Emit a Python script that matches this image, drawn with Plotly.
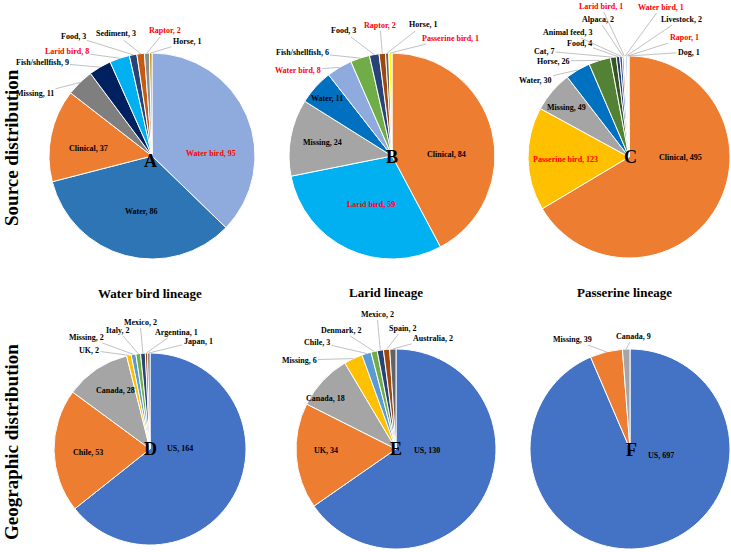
import math
import plotly.graph_objects as go

W, H = 731, 552

# ---------------- data ----------------
a_labels = ["Water bird", "Water", "Clinical", "Missing", "Fish/shellfish", "Larid bird",
            "Food", "Sediment", "Raptor", "Horse"]
a_values = [95, 86, 37, 11, 9, 8, 3, 3, 2, 1]

b_labels = ["Clinical", "Larid bird", "Missing", "Water", "Water bird", "Fish/shellfish",
            "Food", "Raptor", "Horse", "Passerine bird"]
b_values = [84, 59, 24, 11, 8, 6, 3, 2, 1, 1]

c_labels = ["Clinical", "Passerine bird", "Missing", "Water", "Horse", "Cat", "Food",
            "Animal feed", "Alpaca", "Larid bird", "Water bird", "Livestock", "Rapor", "Dog"]
c_values = [495, 123, 49, 30, 26, 7, 4, 3, 2, 1, 1, 2, 1, 1]

d_labels = ["US", "Chile", "Canada", "UK", "Missing", "Italy", "Mexico", "Argentina", "Japan"]
d_values = [164, 53, 28, 2, 2, 2, 2, 1, 1]

e_labels = ["US", "UK", "Canada", "Missing", "Chile", "Denmark", "Mexico", "Spain", "Australia"]
e_values = [130, 34, 18, 6, 3, 2, 2, 2, 2]

f_labels = ["US", "Missing", "Canada"]
f_values = [697, 39, 9]

bird_labels = {"Water bird", "Larid bird", "Raptor", "Rapor", "Passerine bird"}

row_titles = ["Source distribution", "Geographic distribution"]
col_titles = ["Water bird lineage", "Larid lineage", "Passerine lineage"]

# ---------------- styles ----------------
a_colors = ["#8faadc", "#2e75b6", "#ed7d31", "#7f7f7f", "#002060", "#00b0f0",
            "#264478", "#c55a11", "#8c8c8c", "#bf9000"]
b_colors = ["#ed7d31", "#00b0f0", "#a5a5a5", "#0070c0", "#8faadc", "#70ad47",
            "#264478", "#9e480e", "#636363", "#ffff00"]
c_colors = ["#ed7d31", "#ffc000", "#a5a5a5", "#0070c0", "#548235", "#375623", "#1f3864",
            "#2f5597", "#c55a11", "#d9d9d9", "#a9d18e", "#9dc3e6", "#f4b183", "#ffe699"]
geo_colors = ["#4472c4", "#ed7d31", "#a5a5a5", "#ffc000", "#5b9bd5", "#70ad47",
              "#264478", "#9e480e", "#636363"]

FONT = "Liberation Serif, Times New Roman, serif"

# pie geometry (pixel centre, radius) and label layout (pixel centre, leader line?)
pies = [
    dict(name="A", labels=a_labels, values=a_values, colors=a_colors, c=(152, 156), r=103,
         letter=(150, 161),
         pos={"Water bird": (211, 153, False), "Water": (141, 211, False),
              "Clinical": (88, 148, False), "Missing": (35, 94, True),
              "Fish/shellfish": (42, 62, True), "Larid bird": (67, 51, True),
              "Food": (73, 36, True), "Sediment": (116, 34, True),
              "Raptor": (165, 31, True), "Horse": (187, 42, True)}),
    dict(name="B", labels=b_labels, values=b_values, colors=b_colors, c=(392, 156), r=103,
         letter=(392, 157),
         pos={"Clinical": (446, 154, False), "Larid bird": (371, 204, False),
              "Missing": (322, 142, False), "Water": (327, 98, False),
              "Water bird": (298, 70, True), "Fish/shellfish": (302, 52, True),
              "Food": (343, 31, True), "Raptor": (380, 25, True),
              "Horse": (423, 25, True), "Passerine bird": (450, 38, True)}),
    dict(name="C", labels=c_labels, values=c_values, colors=c_colors, c=(629, 157), r=101,
         letter=(630, 157),
         pos={"Clinical": (680, 157, False), "Passerine bird": (565, 159, False),
              "Missing": (566, 108, False), "Water": (535, 80, True),
              "Horse": (553, 61, True), "Cat": (544, 51, True), "Food": (579, 43, True),
              "Animal feed": (568, 32, True), "Alpaca": (598, 19, True),
              "Larid bird": (601, 6, True), "Water bird": (661, 7, True),
              "Livestock": (681, 19, True), "Rapor": (684, 38, True),
              "Dog": (689, 52, True)}),
    dict(name="D", labels=d_labels, values=d_values, colors=geo_colors, c=(150, 449), r=96,
         letter=(150, 449),
         pos={"US": (180, 448, False), "Chile": (88, 452, False),
              "Canada": (115, 390, False), "UK": (89, 350, True),
              "Missing": (86, 337, True), "Italy": (118, 330, True),
              "Mexico": (140, 322, True), "Argentina": (176, 332, True),
              "Japan": (198, 341, True)}),
    dict(name="E", labels=e_labels, values=e_values, colors=geo_colors, c=(396, 449), r=100,
         letter=(396, 449),
         pos={"US": (427, 450, False), "UK": (326, 450, False),
              "Canada": (325, 398, False), "Missing": (299, 360, True),
              "Chile": (317, 342, True), "Denmark": (341, 330, True),
              "Mexico": (377, 314, True), "Spain": (403, 328, True),
              "Australia": (433, 338, True)}),
    dict(name="F", labels=f_labels, values=f_values, colors=geo_colors, c=(630, 449), r=100,
         letter=(631, 450),
         pos={"US": (661, 455, False), "Missing": (572, 339, True),
              "Canada": (633, 336, True)}),
]


def px(x):
    return x / W


def py(y):
    return 1 - y / H


fig = go.Figure()
annotations = []

for p in pies:
    cx, cy = p["c"]
    r = p["r"]
    fig.add_trace(go.Pie(
        labels=p["labels"], values=p["values"], sort=False, direction="clockwise",
        rotation=0, textinfo="none", hoverinfo="label+value",
        marker=dict(colors=p["colors"], line=dict(color="white", width=1)),
        domain=dict(x=[px(cx - r), px(cx + r)], y=[py(cy + r), py(cy - r)]),
        showlegend=False,
    ))
    total = sum(p["values"])
    cum = 0
    for lab, val in zip(p["labels"], p["values"]):
        mid = (cum + val / 2) / total * 2 * math.pi
        cum += val
        lx, ly, leader = p["pos"][lab]
        color = "#ff0000" if lab in bird_labels else "#000000"
        text = f"<b>{lab}, {val}</b>"
        if leader:
            hx = cx + r * math.sin(mid)
            hy = cy - r * math.cos(mid)
            annotations.append(dict(
                x=px(hx), y=py(hy), xref="paper", yref="paper", text=text,
                xanchor="center", yanchor="middle",
                showarrow=True, arrowhead=0, arrowwidth=0.7, arrowcolor="#a6a6a6",
                ax=lx - hx, ay=ly - hy, standoff=0, startstandoff=0,
                font=dict(family=FONT, size=8, color=color)))
        else:
            annotations.append(dict(
                x=px(lx), y=py(ly), xref="paper", yref="paper", text=text,
                xanchor="center", yanchor="middle",
                showarrow=False, font=dict(family=FONT, size=8, color=color)))
    lx, ly = p["letter"]
    annotations.append(dict(x=px(lx), y=py(ly), xref="paper", yref="paper",
                            text=f"<b>{p['name']}</b>", showarrow=False,
                            xanchor="center", yanchor="middle",
                            font=dict(family=FONT, size=18, color="black")))

for t, (x, y) in zip(col_titles, [(150, 293), (386, 292), (624, 292)]):
    annotations.append(dict(x=px(x), y=py(y), xref="paper", yref="paper",
                            text=f"<b>{t}</b>", showarrow=False,
                            xanchor="center", yanchor="middle",
                            font=dict(family=FONT, size=13, color="black")))

for t, (x, y) in zip(row_titles, [(11, 148), (11, 442)]):
    annotations.append(dict(x=px(x), y=py(y), xref="paper", yref="paper",
                            text=f"<b>{t}</b>", showarrow=False, textangle=-90,
                            xanchor="center", yanchor="middle",
                            font=dict(family=FONT, size=19, color="black")))

fig.update_layout(
    width=W, height=H, margin=dict(l=0, r=0, t=0, b=0),
    paper_bgcolor="white", plot_bgcolor="white",
    annotations=annotations,
)

fig.write_html("out.html", config={"displayModeBar": False},
               post_script="document.body.style.margin='0';document.body.style.padding='0';")
